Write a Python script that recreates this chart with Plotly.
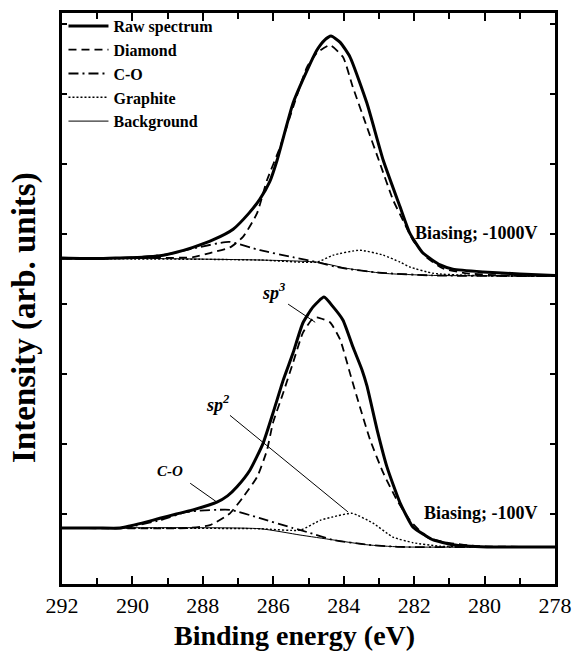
import plotly.graph_objects as go

# ---------------- data ----------------
# Upper spectrum (Biasing; -1000V)
up_raw_E = [292.0, 291.0, 290.35, 289.7, 289.22, 288.75, 288.28, 287.7, 287.14, 286.69, 286.38, 286.1, 285.89,
            285.44, 285.04, 284.76, 284.55, 284.36, 284.1, 283.82, 283.34, 282.88, 282.40, 282.12, 281.75,
            281.26, 280.90, 280.04, 279.0, 278.0]
up_raw_I = [4.66, 4.65, 4.66, 4.67, 4.69, 4.74, 4.81, 4.92, 5.07, 5.30, 5.50, 5.75, 6.06,
            6.87, 7.34, 7.63, 7.77, 7.83, 7.74, 7.53, 6.87, 6.06, 5.39, 5.01, 4.73,
            4.56, 4.50, 4.46, 4.43, 4.41]

up_dia_E = [292.0, 289.2, 288.28, 287.80, 287.23, 286.86, 286.46, 286.18, 285.81, 285.44, 285.04, 284.76,
            284.39, 284.02, 283.74, 283.34, 282.97, 282.60, 282.32, 282.03, 281.63, 281.18, 280.50, 279.56, 278.0]
up_dia_I = [4.65, 4.66, 4.67, 4.73, 4.81, 4.96, 5.30, 5.77, 6.24, 6.81, 7.39, 7.59,
            7.70, 7.53, 7.10, 6.53, 6.01, 5.49, 5.20, 4.91, 4.66, 4.51, 4.44, 4.41, 4.40]

up_co_E = [292.0, 290.2, 289.16, 288.22, 287.26, 286.38, 285.44, 284.76, 284.10, 283.0, 281.5, 278.0]
up_co_I = [4.65, 4.66, 4.70, 4.80, 4.89, 4.77, 4.67, 4.60, 4.52, 4.45, 4.41, 4.40]

up_gr_E = [292.0, 288.08, 286.38, 284.76, 284.30, 283.54, 282.88, 282.40, 282.12, 281.46, 280.41, 278.0]
up_gr_I = [4.65, 4.64, 4.63, 4.60, 4.70, 4.77, 4.70, 4.60, 4.53, 4.44, 4.41, 4.40]

up_bg_E = [292.0, 289.2, 286.38, 284.76, 283.90, 282.88, 281.46, 278.0]
up_bg_I = [4.65, 4.65, 4.63, 4.60, 4.51, 4.44, 4.41, 4.40]

# Lower spectrum (Biasing; -100V)
lo_raw_E = [292.0, 291.0, 290.35, 290.07, 289.65, 289.22, 288.75, 288.28, 287.60, 287.30, 287.03, 286.66,
            286.29, 286.01, 285.72, 285.44, 285.16, 284.87, 284.56, 284.30, 284.02, 283.74, 283.48, 283.34,
            283.05, 282.77, 282.40, 282.03, 281.70, 281.46, 280.90, 279.93, 279.0, 278.0]
lo_raw_I = [0.80, 0.80, 0.80, 0.83, 0.88, 0.94, 1.00, 1.06, 1.17, 1.26, 1.39, 1.63,
            2.01, 2.44, 2.91, 3.30, 3.73, 3.96, 4.10, 3.96, 3.77, 3.39, 3.06, 2.83,
            2.20, 1.67, 1.16, 0.81, 0.70, 0.63, 0.56, 0.53, 0.53, 0.53]

lo_dia_E = [292.0, 288.45, 287.80, 287.23, 286.86, 286.46, 286.18, 286.01, 285.72, 285.44, 285.16, 284.87,
            284.76, 284.39, 284.10, 283.82, 283.54, 283.25, 282.88, 282.49, 282.12, 281.63, 281.07, 280.13, 278.0]
lo_dia_I = [0.80, 0.80, 0.84, 1.01, 1.24, 1.53, 1.91, 2.30, 2.73, 3.16, 3.59, 3.80,
            3.81, 3.74, 3.49, 3.01, 2.53, 2.06, 1.59, 1.20, 0.91, 0.67, 0.59, 0.54, 0.53]

lo_co_E = [292.0, 290.35, 290.15, 289.22, 288.45, 287.23, 286.38, 285.44, 284.96, 284.3, 283.3, 282.4, 278.0]
lo_co_I = [0.80, 0.80, 0.81, 0.91, 1.03, 1.06, 0.94, 0.80, 0.73, 0.63, 0.56, 0.53, 0.53]

lo_gr_E = [292.0, 286.38, 285.24, 284.67, 284.30, 283.76, 283.17, 282.60, 282.03, 281.26, 278.0]
lo_gr_I = [0.80, 0.79, 0.77, 0.91, 0.96, 1.01, 0.87, 0.67, 0.59, 0.54, 0.53]

lo_bg_E = [292.0, 286.38, 285.24, 284.30, 283.34, 282.40, 278.0]
lo_bg_I = [0.80, 0.79, 0.70, 0.63, 0.56, 0.53, 0.53]

x_ticks = [292, 290, 288, 286, 284, 282, 280, 278]
series_names = ["Raw spectrum", "Diamond", "C-O", "Graphite", "Background"]
x_title = "Binding energy (eV)"
y_title = "Intensity (arb. units)"

# ---------------- figure ----------------
FONT = "Liberation Serif"
styles = {
    "Raw spectrum": dict(color="black", width=3, dash="solid"),
    "Diamond": dict(color="black", width=1.8, dash="8px,5px"),
    "C-O": dict(color="black", width=1.8, dash="10px,4px,2px,4px"),
    "Graphite": dict(color="black", width=1.4, dash="2px,2px"),
    "Background": dict(color="black", width=1, dash="solid"),
}

upper = [(up_raw_E, up_raw_I), (up_dia_E, up_dia_I), (up_co_E, up_co_I), (up_gr_E, up_gr_I), (up_bg_E, up_bg_I)]
lower = [(lo_raw_E, lo_raw_I), (lo_dia_E, lo_dia_I), (lo_co_E, lo_co_I), (lo_gr_E, lo_gr_I), (lo_bg_E, lo_bg_I)]

fig = go.Figure()
for name, (ex, iy) in zip(series_names, upper):
    fig.add_trace(go.Scatter(x=ex, y=iy, mode="lines", name=name, legendgroup=name,
                             line=dict(shape="spline", smoothing=0.5, **styles[name])))
for name, (ex, iy) in zip(series_names, lower):
    fig.add_trace(go.Scatter(x=ex, y=iy, mode="lines", name=name, legendgroup=name, showlegend=False,
                             line=dict(shape="spline", smoothing=0.5, **styles[name])))

annots = [
    dict(x=278.42, y=5.01, text="<b>Biasing; -1000V</b>", xanchor="right", yanchor="middle", showarrow=False,
         font=dict(family=FONT, size=18, color="black")),
    dict(x=278.42, y=1.01, text="<b>Biasing; -100V</b>", xanchor="right", yanchor="middle", showarrow=False,
         font=dict(family=FONT, size=18, color="black")),
    dict(x=285.98, y=4.18, text="<b><i>sp</i></b><sup><b><i>3</i></b></sup>", showarrow=False,
         font=dict(family=FONT, size=18, color="black")),
    dict(x=287.57, y=2.58, text="<b><i>sp</i></b><sup><b><i>2</i></b></sup>", showarrow=False,
         font=dict(family=FONT, size=18, color="black")),
    dict(x=288.93, y=1.62, text="<b><i>C-O</i></b>", showarrow=False,
         font=dict(family=FONT, size=15, color="black")),
]
for a in annots:
    fig.add_annotation(xref="x", yref="y", **a)

# axis titles
fig.add_annotation(xref="paper", yref="paper", x=0.4706, y=-0.1191, xanchor="center", yanchor="bottom",
                   text=f"<b>{x_title}</b>", showarrow=False, borderpad=0,
                   font=dict(family=FONT, size=28, color="black"))
fig.add_annotation(xref="paper", yref="paper", x=-0.075, y=0.466, xanchor="center", yanchor="middle",
                   textangle=-90, text=f"<b>{y_title}</b>", showarrow=False,
                   font=dict(family=FONT, size=33, color="black"))

pointers = [
    (285.58, 4.00, 284.81, 3.74),
    (287.23, 2.41, 283.88, 1.03),
    (288.36, 1.44, 287.60, 1.17),
]
for x0, y0, x1, y1 in pointers:
    fig.add_shape(type="line", xref="x", yref="y", x0=x0, y0=y0, x1=x1, y1=y1,
                  line=dict(color="black", width=1))

fig.update_layout(
    width=576, height=652,
    margin=dict(l=62, r=21, t=13, b=68, autoexpand=False),
    paper_bgcolor="white", plot_bgcolor="white",
    font=dict(family=FONT, color="black", size=15),
    legend=dict(x=0.003, y=1.007, xanchor="left", yanchor="top", bgcolor="rgba(0,0,0,0)",
                font=dict(family=FONT, size=16, color="black", weight="bold"), tracegroupgap=0,
                itemwidth=40),
    showlegend=True,
)
fig.update_xaxes(
    range=[292, 278], tickvals=x_ticks, ticktext=[str(t) for t in x_ticks],
    ticks="inside", ticklen=8, tickwidth=2, tickcolor="black",
    minor=dict(dtick=1, tick0=0, ticks="inside", ticklen=6, tickwidth=2, tickcolor="black"),
    showline=True, linewidth=2.5, linecolor="black", mirror="allticks",
    showgrid=False, zeroline=False, automargin=False,
    tickfont=dict(family=FONT, size=22, color="black"),
)
fig.update_yaxes(
    range=[0, 8.16], dtick=1, tick0=0, showticklabels=False,
    ticks="inside", ticklen=5, tickwidth=1.5, tickcolor="black",
    showline=True, linewidth=2.5, linecolor="black", mirror="allticks",
    showgrid=False, zeroline=False, automargin=False,
)

fig.write_html("out.html")
